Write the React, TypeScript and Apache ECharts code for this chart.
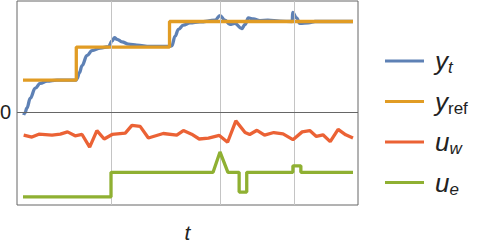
import React, { useEffect, useRef } from "react";
import * as echarts from "echarts";

// time t (0..100) and values
const ytData: [number, number][] = [
  [0.2, -0.1], [0.6, -0.03], [1.2, 0.12], [2.2, 0.42], [3.7, 0.73], [5.2, 0.88], [7.3, 0.95], [10.3, 0.98],
  [16.1, 0.98], [16.4, 1.03], [17.1, 1.21], [17.9, 1.43], [19.4, 1.74], [20.9, 1.89], [23.4, 1.97], [25.9, 2.01],
  [27.0, 2.19], [27.7, 2.29], [28.5, 2.24], [30.0, 2.16], [32.0, 2.09], [34.5, 2.06], [38.5, 2.02], [44.2, 2.02],
  [45.1, 2.04], [46.1, 2.34], [47.1, 2.55], [48.6, 2.68], [50.6, 2.75], [53.6, 2.78], [58.2, 2.83], [59.7, 2.97],
  [61.2, 2.83], [62.7, 2.7], [64.2, 2.73], [66.3, 2.57], [67.3, 2.7], [68.3, 2.9], [69.8, 2.87], [71.8, 2.82],
  [74.2, 2.83], [77.9, 2.8], [81.6, 2.79], [81.7, 3.07], [82.9, 2.9], [83.9, 2.73], [86.5, 2.75], [88.5, 2.79],
  [100, 2.79],
];
const yrefData: [number, number][] = [
  [0, 0.98], [16.15, 0.98], [16.15, 2.0], [44.4, 2.0], [44.4, 2.79], [100, 2.79],
];
const uwData: [number, number][] = [
  [0.2, -0.72], [2.7, -0.78], [4.8, -0.69], [8.8, -0.72], [11.3, -0.69], [13.5, -0.62], [15.8, -0.74], [17.9, -0.7],
  [20.2, -1.09], [22.4, -0.58], [24.6, -0.84], [27.0, -0.7], [31.0, -0.66], [33.0, -0.42], [35.5, -0.45], [38.0, -0.81],
  [42.5, -0.67], [46.6, -0.72], [48.6, -0.58], [51.1, -0.69], [53.4, -0.84], [56.2, -0.81], [59.5, -0.73], [62.0, -0.94],
  [64.5, -0.28], [67.3, -0.64], [68.7, -0.7], [70.9, -0.57], [73.2, -0.72], [76.0, -0.64], [78.8, -0.68], [81.8, -0.86],
  [84.6, -0.62], [86.9, -0.58], [88.9, -0.76], [90.9, -0.71], [93.1, -0.92], [95.5, -0.54], [97.8, -0.71], [100, -0.81],
];
const ueData: [number, number][] = [
  [0, -2.63], [26.67, -2.63], [26.67, -1.87], [57.6, -1.87], [59.7, -1.24], [62.1, -1.87], [65.5, -1.87],
  [65.5, -2.48], [67.8, -2.48], [67.8, -1.87], [81.8, -1.87], [81.8, -1.67], [84.2, -1.67], [84.2, -1.87],
  [100, -1.87],
];
const gridTimes = [26.7, 59.7, 82.1];
const seriesNames = ["yt", "yref", "uw", "ue"];
const legendLabels: Record<string, string> = {
  yt: "{m|y}{si|t}",
  yref: "{m|y}{su|ref}",
  uw: "{m|u}{si|w}",
  ue: "{m|u}{si|e}",
};
const colors = ["#5E81B5", "#E19C24", "#EB6235", "#8FB032"];

const FONT = "Liberation Sans, Arial, sans-serif";

export default function App() {
  const ref = useRef<HTMLDivElement>(null);
  useEffect(() => {
    const chart = echarts.init(ref.current!, undefined, { renderer: "svg" });
    const datas = [ytData, yrefData, uwData, ueData];
    chart.setOption({
      animation: false,
      grid: { left: 17, right: 120, top: 1, bottom: 39, show: true, borderColor: "#666", borderWidth: 1 },
      xAxis: {
        type: "value",
        min: -1.818,
        max: 101.52,
        axisLine: { show: false },
        axisTick: { show: false },
        axisLabel: { show: false },
        splitLine: { show: false },
        name: "t",
        nameLocation: "middle",
        nameGap: 17,
        nameTextStyle: { fontFamily: FONT, fontStyle: "italic", fontSize: 21, color: "#222" },
      },
      yAxis: {
        type: "value",
        min: -2.879,
        max: 3.424,
        axisLine: { show: false },
        axisTick: { show: false },
        axisLabel: { show: false },
        splitLine: { show: false },
      },
      legend: {
        orient: "vertical",
        left: 380,
        top: 43,
        itemWidth: 39,
        itemHeight: 3,
        itemGap: 12.5,
        icon: "rect",
        data: seriesNames,
        formatter: (name: string) => legendLabels[name],
        textStyle: {
          fontFamily: FONT,
          color: "#222",
          rich: {
            m: { fontFamily: FONT, fontStyle: "italic", fontSize: 26, lineHeight: 30, color: "#222", padding: [0, 0, 0, 6] },
            si: { fontFamily: FONT, fontStyle: "italic", fontSize: 17, lineHeight: 14, verticalAlign: "bottom", color: "#222" },
            su: { fontFamily: FONT, fontSize: 17, lineHeight: 14, verticalAlign: "bottom", color: "#222" },
          },
        },
      },
      series: datas.map((d, i) => ({
        name: seriesNames[i],
        type: "line",
        data: d,
        symbol: "none",
        smooth: i === 0 ? 0.4 : false,
        smoothMonotone: i === 0 ? "x" : undefined,
        lineStyle: { color: colors[i], width: 3.3 },
        itemStyle: { color: colors[i] },
        z: 3 + i,
        markLine:
          i === 0
            ? {
                silent: true,
                symbol: "none",
                animation: false,
                data: [
                  ...gridTimes.map((t) => ({
                    xAxis: t,
                    lineStyle: { color: "#c4c4c4", width: 1, type: "solid" },
                    label: { show: false },
                  })),
                  {
                    yAxis: 0,
                    lineStyle: { color: "#666", width: 1, type: "solid" },
                    label: {
                      show: true,
                      position: "start",
                      distance: 6,
                      formatter: "0",
                      fontFamily: FONT,
                      fontSize: 20,
                      color: "#222",
                    },
                  },
                ],
              }
            : undefined,
      })),
    });
    return () => chart.dispose();
  }, []);
  return <div ref={ref} style={{ position: "absolute", left: 0, top: 0, width: 478, height: 248 }} />;
}
